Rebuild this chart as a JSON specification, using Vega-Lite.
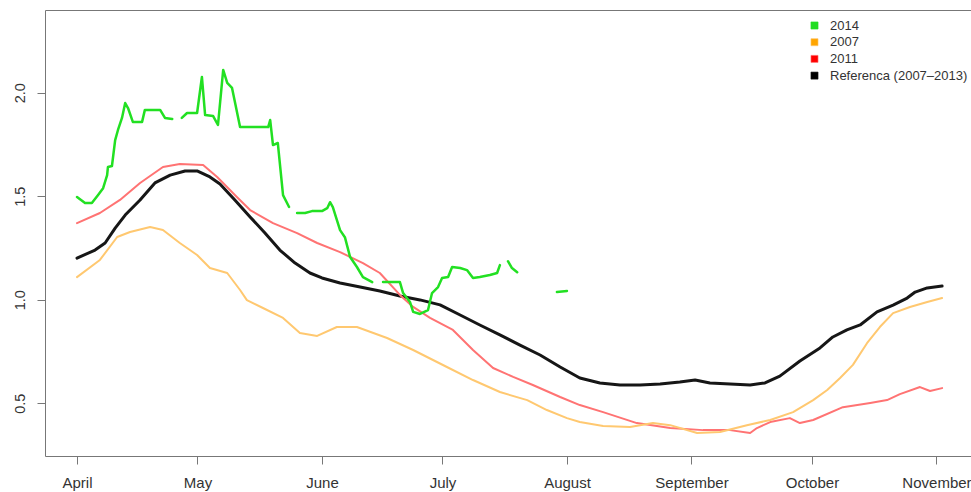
{
  "$schema": "https://vega.github.io/schema/vega-lite/v6.json",
  "autosize": "none",
  "width": 926,
  "height": 446,
  "padding": {"left": 45, "top": 10, "right": 0, "bottom": 36},
  "background": "white",
  "config": {
    "view": {"stroke": null},
    "font": "Liberation Sans",
    "axis": {"grid": false, "domainColor": "#777", "tickColor": "#777", "labelColor": "#333", "labelFont": "Liberation Sans", "title": null}
  },
  "data": {"values": [
    {"series":"Referenca (2007–2013)","d":91.0,"v":1.201},
    {"series":"Referenca (2007–2013)","d":95.5,"v":1.240},
    {"series":"Referenca (2007–2013)","d":98.0,"v":1.274},
    {"series":"Referenca (2007–2013)","d":100.5,"v":1.346},
    {"series":"Referenca (2007–2013)","d":103.0,"v":1.409},
    {"series":"Referenca (2007–2013)","d":106.7,"v":1.482},
    {"series":"Referenca (2007–2013)","d":110.4,"v":1.564},
    {"series":"Referenca (2007–2013)","d":114.2,"v":1.602},
    {"series":"Referenca (2007–2013)","d":117.9,"v":1.622},
    {"series":"Referenca (2007–2013)","d":120.9,"v":1.622},
    {"series":"Referenca (2007–2013)","d":124.1,"v":1.593},
    {"series":"Referenca (2007–2013)","d":126.6,"v":1.559},
    {"series":"Referenca (2007–2013)","d":130.3,"v":1.482},
    {"series":"Referenca (2007–2013)","d":134.1,"v":1.400},
    {"series":"Referenca (2007–2013)","d":137.8,"v":1.322},
    {"series":"Referenca (2007–2013)","d":141.5,"v":1.240},
    {"series":"Referenca (2007–2013)","d":145.3,"v":1.177},
    {"series":"Referenca (2007–2013)","d":149.0,"v":1.129},
    {"series":"Referenca (2007–2013)","d":152.0,"v":1.105},
    {"series":"Referenca (2007–2013)","d":156.5,"v":1.081},
    {"series":"Referenca (2007–2013)","d":161.5,"v":1.061},
    {"series":"Referenca (2007–2013)","d":166.4,"v":1.042},
    {"series":"Referenca (2007–2013)","d":171.4,"v":1.018},
    {"series":"Referenca (2007–2013)","d":176.4,"v":0.999},
    {"series":"Referenca (2007–2013)","d":181.4,"v":0.975},
    {"series":"Referenca (2007–2013)","d":186.4,"v":0.926},
    {"series":"Referenca (2007–2013)","d":191.3,"v":0.878},
    {"series":"Referenca (2007–2013)","d":196.3,"v":0.830},
    {"series":"Referenca (2007–2013)","d":201.3,"v":0.781},
    {"series":"Referenca (2007–2013)","d":206.3,"v":0.733},
    {"series":"Referenca (2007–2013)","d":211.3,"v":0.675},
    {"series":"Referenca (2007–2013)","d":216.2,"v":0.622},
    {"series":"Referenca (2007–2013)","d":221.2,"v":0.598},
    {"series":"Referenca (2007–2013)","d":226.2,"v":0.588},
    {"series":"Referenca (2007–2013)","d":231.2,"v":0.588},
    {"series":"Referenca (2007–2013)","d":236.2,"v":0.593},
    {"series":"Referenca (2007–2013)","d":241.1,"v":0.602},
    {"series":"Referenca (2007–2013)","d":244.9,"v":0.612},
    {"series":"Referenca (2007–2013)","d":248.6,"v":0.598},
    {"series":"Referenca (2007–2013)","d":253.6,"v":0.593},
    {"series":"Referenca (2007–2013)","d":258.6,"v":0.588},
    {"series":"Referenca (2007–2013)","d":262.3,"v":0.598},
    {"series":"Referenca (2007–2013)","d":266.0,"v":0.631},
    {"series":"Referenca (2007–2013)","d":271.0,"v":0.704},
    {"series":"Referenca (2007–2013)","d":276.0,"v":0.767},
    {"series":"Referenca (2007–2013)","d":279.2,"v":0.820},
    {"series":"Referenca (2007–2013)","d":282.7,"v":0.854},
    {"series":"Referenca (2007–2013)","d":286.0,"v":0.878},
    {"series":"Referenca (2007–2013)","d":290.2,"v":0.941},
    {"series":"Referenca (2007–2013)","d":294.2,"v":0.974},
    {"series":"Referenca (2007–2013)","d":297.7,"v":1.008},
    {"series":"Referenca (2007–2013)","d":299.7,"v":1.037},
    {"series":"Referenca (2007–2013)","d":302.7,"v":1.057},
    {"series":"Referenca (2007–2013)","d":306.4,"v":1.066},

    {"series":"2011","d":91.0,"v":1.370},
    {"series":"2011","d":96.7,"v":1.419},
    {"series":"2011","d":101.7,"v":1.482},
    {"series":"2011","d":106.7,"v":1.564},
    {"series":"2011","d":112.4,"v":1.641},
    {"series":"2011","d":116.6,"v":1.656},
    {"series":"2011","d":122.4,"v":1.651},
    {"series":"2011","d":125.9,"v":1.593},
    {"series":"2011","d":130.8,"v":1.496},
    {"series":"2011","d":134.1,"v":1.433},
    {"series":"2011","d":139.8,"v":1.370},
    {"series":"2011","d":145.8,"v":1.322},
    {"series":"2011","d":150.8,"v":1.274},
    {"series":"2011","d":156.5,"v":1.230},
    {"series":"2011","d":162.2,"v":1.177},
    {"series":"2011","d":166.4,"v":1.129},
    {"series":"2011","d":171.4,"v":1.023},
    {"series":"2011","d":174.7,"v":0.965},
    {"series":"2011","d":178.9,"v":0.912},
    {"series":"2011","d":184.6,"v":0.854},
    {"series":"2011","d":189.6,"v":0.757},
    {"series":"2011","d":194.6,"v":0.670},
    {"series":"2011","d":199.6,"v":0.627},
    {"series":"2011","d":204.5,"v":0.588},
    {"series":"2011","d":211.3,"v":0.530},
    {"series":"2011","d":216.2,"v":0.491},
    {"series":"2011","d":222.0,"v":0.457},
    {"series":"2011","d":230.4,"v":0.404},
    {"series":"2011","d":238.7,"v":0.380},
    {"series":"2011","d":246.9,"v":0.370},
    {"series":"2011","d":253.6,"v":0.370},
    {"series":"2011","d":258.6,"v":0.356},
    {"series":"2011","d":260.3,"v":0.380},
    {"series":"2011","d":263.6,"v":0.409},
    {"series":"2011","d":268.5,"v":0.428},
    {"series":"2011","d":271.0,"v":0.404},
    {"series":"2011","d":274.3,"v":0.419},
    {"series":"2011","d":281.7,"v":0.481},
    {"series":"2011","d":288.5,"v":0.501},
    {"series":"2011","d":292.7,"v":0.515},
    {"series":"2011","d":295.9,"v":0.544},
    {"series":"2011","d":300.9,"v":0.578},
    {"series":"2011","d":303.4,"v":0.559},
    {"series":"2011","d":306.4,"v":0.573},

    {"series":"2007","d":91.0,"v":1.109},
    {"series":"2007","d":96.7,"v":1.192},
    {"series":"2007","d":101.0,"v":1.303},
    {"series":"2007","d":104.2,"v":1.327},
    {"series":"2007","d":109.2,"v":1.351},
    {"series":"2007","d":112.4,"v":1.337},
    {"series":"2007","d":116.6,"v":1.274},
    {"series":"2007","d":120.9,"v":1.216},
    {"series":"2007","d":124.1,"v":1.153},
    {"series":"2007","d":128.4,"v":1.129},
    {"series":"2007","d":131.6,"v":1.047},
    {"series":"2007","d":133.3,"v":0.998},
    {"series":"2007","d":137.3,"v":0.960},
    {"series":"2007","d":142.3,"v":0.912},
    {"series":"2007","d":146.5,"v":0.839},
    {"series":"2007","d":150.8,"v":0.825},
    {"series":"2007","d":155.7,"v":0.868},
    {"series":"2007","d":160.7,"v":0.868},
    {"series":"2007","d":168.2,"v":0.815},
    {"series":"2007","d":174.7,"v":0.757},
    {"series":"2007","d":183.1,"v":0.675},
    {"series":"2007","d":189.6,"v":0.612},
    {"series":"2007","d":196.3,"v":0.554},
    {"series":"2007","d":203.1,"v":0.515},
    {"series":"2007","d":208.0,"v":0.467},
    {"series":"2007","d":213.0,"v":0.428},
    {"series":"2007","d":216.2,"v":0.409},
    {"series":"2007","d":222.0,"v":0.390},
    {"series":"2007","d":228.7,"v":0.385},
    {"series":"2007","d":234.4,"v":0.404},
    {"series":"2007","d":238.7,"v":0.394},
    {"series":"2007","d":245.4,"v":0.356},
    {"series":"2007","d":251.1,"v":0.361},
    {"series":"2007","d":257.8,"v":0.394},
    {"series":"2007","d":263.6,"v":0.419},
    {"series":"2007","d":269.3,"v":0.457},
    {"series":"2007","d":274.3,"v":0.515},
    {"series":"2007","d":277.8,"v":0.564},
    {"series":"2007","d":281.0,"v":0.622},
    {"series":"2007","d":284.2,"v":0.685},
    {"series":"2007","d":287.7,"v":0.790},
    {"series":"2007","d":290.9,"v":0.868},
    {"series":"2007","d":294.2,"v":0.935},
    {"series":"2007","d":298.4,"v":0.965},
    {"series":"2007","d":302.7,"v":0.989},
    {"series":"2007","d":306.4,"v":1.008},

    {"series":"2014","d":91.0,"v":1.496},
    {"series":"2014","d":93.0,"v":1.467},
    {"series":"2014","d":94.7,"v":1.467},
    {"series":"2014","d":96.2,"v":1.505},
    {"series":"2014","d":97.5,"v":1.539},
    {"series":"2014","d":98.5,"v":1.602},
    {"series":"2014","d":98.7,"v":1.641},
    {"series":"2014","d":99.7,"v":1.646},
    {"series":"2014","d":100.5,"v":1.771},
    {"series":"2014","d":101.2,"v":1.820},
    {"series":"2014","d":102.2,"v":1.878},
    {"series":"2014","d":103.0,"v":1.950},
    {"series":"2014","d":103.7,"v":1.926},
    {"series":"2014","d":104.9,"v":1.859},
    {"series":"2014","d":107.2,"v":1.859},
    {"series":"2014","d":107.9,"v":1.917},
    {"series":"2014","d":111.7,"v":1.917},
    {"series":"2014","d":112.9,"v":1.878},
    {"series":"2014","d":114.7,"v":1.873},
    {"series":"2014","d":116.0,"v":null},
    {"series":"2014","d":117.1,"v":1.878},
    {"series":"2014","d":118.4,"v":1.902},
    {"series":"2014","d":120.9,"v":1.902},
    {"series":"2014","d":122.1,"v":2.076},
    {"series":"2014","d":122.9,"v":1.892},
    {"series":"2014","d":124.9,"v":1.887},
    {"series":"2014","d":126.1,"v":1.844},
    {"series":"2014","d":127.4,"v":2.110},
    {"series":"2014","d":128.4,"v":2.047},
    {"series":"2014","d":129.6,"v":2.023},
    {"series":"2014","d":131.6,"v":1.834},
    {"series":"2014","d":138.6,"v":1.834},
    {"series":"2014","d":139.1,"v":1.868},
    {"series":"2014","d":139.8,"v":1.747},
    {"series":"2014","d":141.0,"v":1.757},
    {"series":"2014","d":142.3,"v":1.505},
    {"series":"2014","d":143.8,"v":1.448},
    {"series":"2014","d":144.8,"v":null},
    {"series":"2014","d":145.8,"v":1.419},
    {"series":"2014","d":147.8,"v":1.419},
    {"series":"2014","d":149.5,"v":1.428},
    {"series":"2014","d":152.0,"v":1.428},
    {"series":"2014","d":153.3,"v":1.442},
    {"series":"2014","d":154.0,"v":1.471},
    {"series":"2014","d":154.7,"v":1.447},
    {"series":"2014","d":156.5,"v":1.336},
    {"series":"2014","d":157.7,"v":1.302},
    {"series":"2014","d":159.0,"v":1.206},
    {"series":"2014","d":160.7,"v":1.158},
    {"series":"2014","d":162.2,"v":1.109},
    {"series":"2014","d":164.5,"v":1.085},
    {"series":"2014","d":165.8,"v":null},
    {"series":"2014","d":167.2,"v":1.085},
    {"series":"2014","d":171.4,"v":1.085},
    {"series":"2014","d":172.2,"v":1.032},
    {"series":"2014","d":173.9,"v":0.989},
    {"series":"2014","d":174.7,"v":0.941},
    {"series":"2014","d":176.4,"v":0.931},
    {"series":"2014","d":178.4,"v":0.950},
    {"series":"2014","d":179.4,"v":1.032},
    {"series":"2014","d":180.9,"v":1.061},
    {"series":"2014","d":181.9,"v":1.105},
    {"series":"2014","d":183.4,"v":1.110},
    {"series":"2014","d":184.4,"v":1.158},
    {"series":"2014","d":186.4,"v":1.153},
    {"series":"2014","d":188.1,"v":1.143},
    {"series":"2014","d":189.6,"v":1.105},
    {"series":"2014","d":191.3,"v":1.110},
    {"series":"2014","d":193.8,"v":1.119},
    {"series":"2014","d":195.6,"v":1.129},
    {"series":"2014","d":196.3,"v":1.167},
    {"series":"2014","d":197.3,"v":null},
    {"series":"2014","d":198.3,"v":1.186},
    {"series":"2014","d":199.3,"v":1.153},
    {"series":"2014","d":200.6,"v":1.133},
    {"series":"2014","d":205.0,"v":null},
    {"series":"2014","d":210.5,"v":1.037},
    {"series":"2014","d":213.0,"v":1.042}
  ]},
  "resolve": {"axis": {"x": "independent"}},
  "layer": [
    {
      "mark": {"type": "line", "invalid": "break-paths-filter-domains", "strokeJoin": "round", "strokeCap": "round"},
      "encoding": {
        "x": {"field": "d", "type": "quantitative",
          "scale": {"domain": [83.03, 313.6], "nice": false, "zero": false},
          "axis": {"orient": "bottom", "values": [91, 121, 152, 182, 213, 244, 274, 305],
            "labelExpr": "datum.value==91?'April':datum.value==121?'May':datum.value==152?'June':datum.value==182?'July':datum.value==213?'August':datum.value==244?'September':datum.value==274?'October':'November'",
            "tickSize": 8, "labelPadding": 11, "labelFontSize": 15, "labelBaseline": "top", "labelFlush": false, "labelOverlap": false}},
        "y": {"field": "v", "type": "quantitative",
          "scale": {"domain": [0.245, 2.3995], "nice": false, "zero": false},
          "axis": {"values": [0.5, 1, 1.5, 2], "format": ".1f", "labelAngle": 270, "labelAlign": "center", "labelBaseline": "bottom",
            "tickSize": 8, "labelPadding": 10, "labelFontSize": 14.5}},
        "color": {"field": "series", "type": "nominal",
          "scale": {"domain": ["2014", "2007", "2011", "Referenca (2007–2013)"], "range": ["#22e022", "#ffc870", "#ff7373", "#161616"]},
          "legend": {"title": null, "orient": "none", "legendX": 763, "legendY": 9, "symbolType": "square", "symbolSize": 50,
            "symbolStrokeColor": "#333", "symbolStrokeWidth": 0.6, "labelFontSize": 13, "labelColor": "#333",
            "labelOffset": 9, "rowPadding": 2.7, "labelFont": "Liberation Sans",
            "encode": {"symbols": {"update": {
              "fill": {"signal": "datum.value=='2014'?'#22dd22':datum.value=='2007'?'#ffa500':datum.value=='2011'?'#ff0000':'#000000'"},
              "stroke": {"value": "#333"}, "strokeWidth": {"value": 0.6}, "opacity": {"value": 1}, "fillOpacity": {"value": 1}}}}}},
        "strokeWidth": {"condition": [
          {"test": "datum.series=='Referenca (2007–2013)'", "value": 3},
          {"test": "datum.series=='2014'", "value": 2.5}
        ], "value": 2}
      }
    },
    {
      "mark": {"type": "rule", "opacity": 0},
      "encoding": {
        "x": {"field": "d", "type": "quantitative",
          "axis": {"orient": "top", "labels": false, "ticks": false, "domain": true, "domainColor": "#777"}}
      }
    }
  ]
}
